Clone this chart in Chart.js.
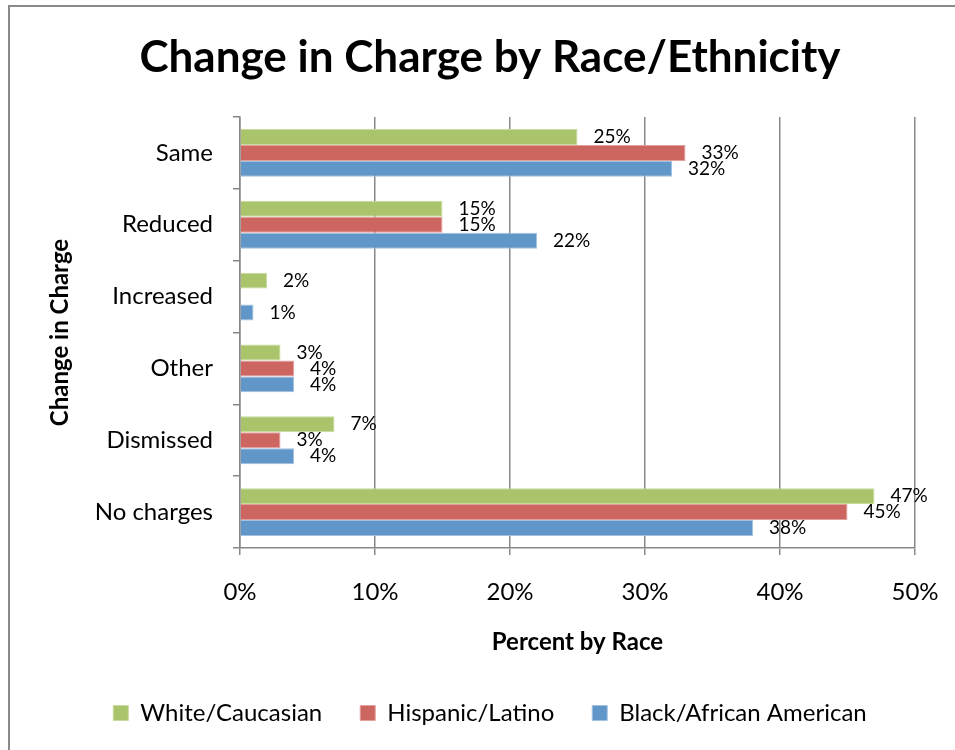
<!DOCTYPE html>
<html>
<head>
<meta charset="utf-8">
<script src="https://cdn.jsdelivr.net/npm/chart.js@4/dist/chart.umd.min.js"></script>
<style>
  html, body { margin: 0; padding: 0; background: #fff; overflow: hidden; }
  #frame { position: absolute; left: 8px; top: 5px; width: 2000px; height: 2000px; border: 2px solid #8a8a8a; }
  #wrap { position: absolute; left: 0; top: 0; width: 955px; height: 750px; }
</style>
</head>
<body>
<div id="frame"></div>
<div id="wrap"><canvas id="chart" width="955" height="750"></canvas></div>
<script>
// --- DATA ---
const categories = ['Same', 'Reduced', 'Increased', 'Other', 'Dismissed', 'No charges'];
const seriesNames = ['White/Caucasian', 'Hispanic/Latino', 'Black/African American'];
const whiteValues = [25, 15, 2, 3, 7, 47];
const hispanicValues = [33, 15, 0, 4, 3, 45];
const blackValues = [32, 22, 1, 4, 4, 38];
const xTickValues = [0, 10, 20, 30, 40, 50];

const GRID = '#888888';
const FONT = 'Lato, "Open Sans", sans-serif';

Chart.defaults.font.family = FONT;
Chart.defaults.color = '#000';

// value labels to the right of each bar (zero values stay unlabeled)
const barLabels = {
    id: 'barLabels',
    afterDatasetsDraw(chart) {
        const ctx = chart.ctx;
        ctx.save();
        ctx.font = '19px ' + FONT;
        ctx.fillStyle = '#000';
        ctx.textAlign = 'left';
        ctx.textBaseline = 'middle';
        chart.data.datasets.forEach((ds, i) => {
            chart.getDatasetMeta(i).data.forEach((bar, j) => {
                const v = ds.data[j];
                if (!v) return;
                ctx.fillText(v + '%', bar.x + 16, bar.y);
            });
        });
        ctx.restore();
    }
};

new Chart(document.getElementById('chart'), {
    type: 'bar',
    data: {
        labels: categories,
        datasets: [
            { label: seriesNames[0], data: whiteValues, backgroundColor: '#A9C46B', borderColor: '#C6DB9C' },
            { label: seriesNames[1], data: hispanicValues, backgroundColor: '#CD6660', borderColor: '#E2A09B' },
            { label: seriesNames[2], data: blackValues, backgroundColor: '#6096C8', borderColor: '#A3C1E0' }
        ]
    },
    options: {
        indexAxis: 'y',
        responsive: false,
        animation: false,
        categoryPercentage: 0.667,
        barPercentage: 1.0,
        borderWidth: 1,
        borderSkipped: 'start',
        layout: { padding: { left: 65, right: 40, top: 0, bottom: 15 } },
        plugins: {
            title: {
                display: true,
                text: 'Change in Charge by Race/Ethnicity',
                color: '#000',
                font: { size: 44, weight: 'bold' },
                padding: { top: 31.6, bottom: 32.6 }
            },
            legend: {
                position: 'bottom',
                labels: {
                    boxWidth: 15,
                    boxHeight: 15,
                    padding: 38,
                    color: '#000',
                    font: { size: 24 }
                }
            },
            tooltip: { enabled: false }
        },
        scales: {
            x: {
                min: 0,
                max: 50,
                afterBuildTicks: (scale) => { scale.ticks = xTickValues.map(v => ({ value: v })); },
                ticks: {
                    callback: (v) => v + '%',
                    padding: 22.6,
                    font: { size: 24 },
                    color: '#000'
                },
                grid: { color: GRID, lineWidth: 1.5, tickLength: 7 },
                border: { color: GRID, width: 1.5 },
                title: {
                    display: true,
                    text: 'Percent by Race',
                    font: { size: 24, weight: 'bold' },
                    padding: { top: 0, bottom: 6.6 }
                },
                afterFit: (scale) => {
                    scale.height = 115;
                    scale.paddingRight = 0;
                }
            },
            y: {
                ticks: { padding: 20, font: { size: 24 }, color: '#000' },
                grid: { drawOnChartArea: false, color: GRID, lineWidth: 1.5, tickLength: 7 },
                border: { color: GRID, width: 1.5 },
                title: {
                    display: true,
                    text: 'Change in Charge',
                    font: { size: 24, weight: 'bold' },
                    padding: { top: -19.4, bottom: 0 }
                },
                afterFit: (scale) => { scale.width = 175; }
            }
        }
    },
    plugins: [barLabels]
});
</script>
</body>
</html>
